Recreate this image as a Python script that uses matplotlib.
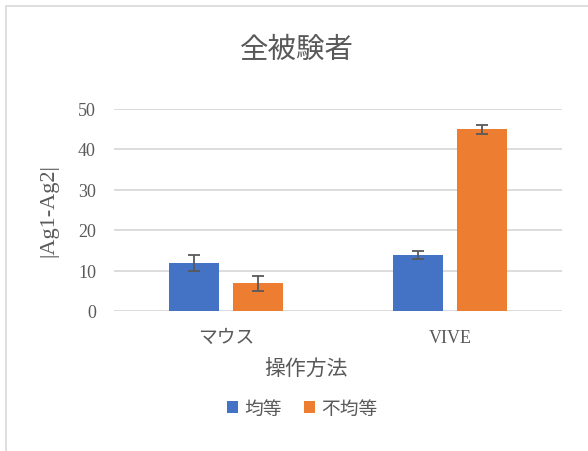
import matplotlib
matplotlib.use("Agg")
import matplotlib.pyplot as plt
import numpy as np
from matplotlib.patches import Rectangle

plt.rcParams["font.family"] = ["Liberation Serif", "Noto Sans CJK JP"]

# data
categories = ["マウス", "VIVE"]
series_names = ["均等", "不均等"]
equal_vals = [11.9, 13.9]
equal_err = [1.9, 1.0]
unequal_vals = [6.8, 44.9]
unequal_err = [1.9, 1.1]

BLUE = "#4472C4"
ORANGE = "#ED7D31"
TEXT = "#595959"
GRID = "#D9D9D9"

W, H = 588, 452
fig = plt.figure(figsize=(W / 100, H / 100), dpi=100)

# light chart-area border
fig.patches.append(Rectangle((6 / W, -0.1), 1.2, (H - 7) / H + 0.1,
                             transform=fig.transFigure, fill=False,
                             edgecolor=GRID, linewidth=1.2))

ax = fig.add_axes([114 / W, (H - 312) / H, (562 - 114) / W, (312 - 109.5) / H])

x = np.arange(len(categories))
width = 0.223
offset = 0.143
err_kw = dict(ecolor=TEXT, elinewidth=1.3, capsize=4.5, capthick=1.3)
ax.bar(x - offset, equal_vals, width, yerr=equal_err, color=BLUE,
       label=series_names[0], error_kw=err_kw, zorder=3)
ax.bar(x + offset, unequal_vals, width, yerr=unequal_err, color=ORANGE,
       label=series_names[1], error_kw=err_kw, zorder=3)

ax.set_xlim(-0.5, 1.5)
ax.set_ylim(0, 50)
ax.set_yticks(range(0, 51, 10))
ax.set_xticks(x)
ax.set_xticklabels(categories)
ax.yaxis.grid(True, color=GRID, linewidth=1.3, zorder=0)
for s in ax.spines.values():
    s.set_visible(False)
ax.tick_params(axis="both", length=0, colors=TEXT, labelsize=13)
ax.tick_params(axis="y", pad=13)
ax.tick_params(axis="x", pad=13)
for lbl in ax.get_xticklabels():
    if lbl.get_text() == "マウス":
        lbl.set_fontsize(13.5)

fig.text(297 / W, 1 - 51 / H, "全被験者", ha="center", va="center",
         fontsize=20.5, color=TEXT)
fig.text(49 / W, 1 - 211 / H, "|Ag1-Ag2|", ha="center", va="center",
         rotation=90, fontsize=16, color=TEXT)
fig.text(306 / W, 1 - 370 / H, "操作方法", ha="center", va="center",
         fontsize=15, color=TEXT)

fig.legend(loc="center", bbox_to_anchor=(302 / W, 1 - 410 / H), ncol=2,
           frameon=False, fontsize=13.5, labelcolor=TEXT, handlelength=0.6,
           handleheight=0.6, handletextpad=0.3, columnspacing=1.2)

fig.savefig("out.png", dpi=100, facecolor="white")
